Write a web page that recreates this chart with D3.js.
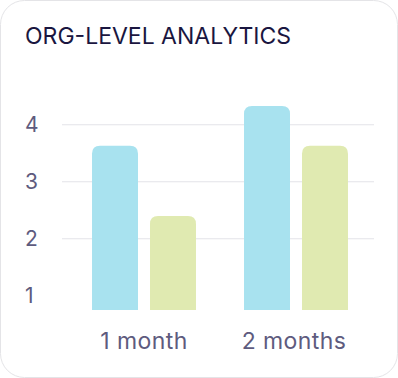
<!DOCTYPE html>
<html>
<head>
<meta charset="utf-8">
<script src="https://cdn.jsdelivr.net/npm/d3@7"></script>
<style>
  html, body { margin: 0; padding: 0; background: #fff; }
  svg { display: block; font-family: Inter, sans-serif; }
</style>
</head>
<body>
<svg id="chart" width="398" height="378"></svg>
<script>
// Chart data
const title = 'ORG-LEVEL ANALYTICS';
const categories = ['1 month', '2 months'];
const series = ['a', 'b'];
const seriesA = [3.63, 4.33];
const seriesB = [2.40, 3.63];
const yTicks = [1, 2, 3, 4];
const colors = ['#a8e2ef', '#e0eab1'];

const svg = d3.select('#chart');

// card background
svg.append('rect')
    .attr('x', 0.5).attr('y', 0.5)
    .attr('width', 397).attr('height', 377)
    .attr('rx', 24)
    .attr('fill', '#fff')
    .attr('stroke', '#e4e4e7');

svg.append('text')
    .attr('x', 25).attr('y', 44)
    .attr('font-size', 23)
    .attr('font-weight', 400)
    .attr('fill', '#1a1640')
    .text(title);

// scales
const x = d3.scaleBand()
    .domain(categories)
    .range([68, 372])
    .paddingInner(0.316)
    .paddingOuter(0.158);

const xInner = d3.scaleBand()
    .domain(series)
    .range([0, x.bandwidth()])
    .paddingInner(0.207);

const y = d3.scaleLinear()
    .domain([0.75, 4.5])
    .range([310, 96.25]);

// grid lines (no line at the lowest tick)
svg.append('g')
    .selectAll('line')
    .data(yTicks.filter(d => d > 1))
    .join('line')
    .attr('x1', 62).attr('x2', 374)
    .attr('y1', d => y(d)).attr('y2', d => y(d))
    .attr('stroke', '#e3e3e8')
    .attr('stroke-width', 1);

// y tick labels
svg.append('g')
    .selectAll('text')
    .data(yTicks)
    .join('text')
    .attr('x', 25)
    .attr('y', d => y(d))
    .attr('dy', '0.36em')
    .attr('font-size', 21)
    .attr('fill', '#5e5b7e')
    .text(d => d);

// rounded-top bar path
function barPath(x0, y0, w, h, r) {
    r = Math.min(r, h, w / 2);
    return `M${x0},${y0 + h}V${y0 + r}Q${x0},${y0} ${x0 + r},${y0}` +
        `H${x0 + w - r}Q${x0 + w},${y0} ${x0 + w},${y0 + r}V${y0 + h}Z`;
}

const rows = categories.map((c, i) => ({
    cat: c,
    values: [seriesA[i], seriesB[i]]
}));

const group = svg.append('g')
    .selectAll('g')
    .data(rows)
    .join('g')
    .attr('transform', d => `translate(${x(d.cat)},0)`);

group.selectAll('path')
    .data(d => d.values.map((v, j) => ({ key: series[j], v, j })))
    .join('path')
    .attr('d', d => barPath(xInner(d.key), y(d.v), xInner.bandwidth(), y.range()[0] - y(d.v), 8))
    .attr('fill', d => colors[d.j]);

// x labels
svg.append('g')
    .selectAll('text')
    .data(categories)
    .join('text')
    .attr('x', (d, i) => x(d) + x.bandwidth() / 2 - i * 2)
    .attr('y', 349)
    .attr('text-anchor', 'middle')
    .attr('font-size', 23)
    .attr('letter-spacing', 0.4)
    .attr('fill', '#5e5b7e')
    .text(d => d);
</script>
</body>
</html>
